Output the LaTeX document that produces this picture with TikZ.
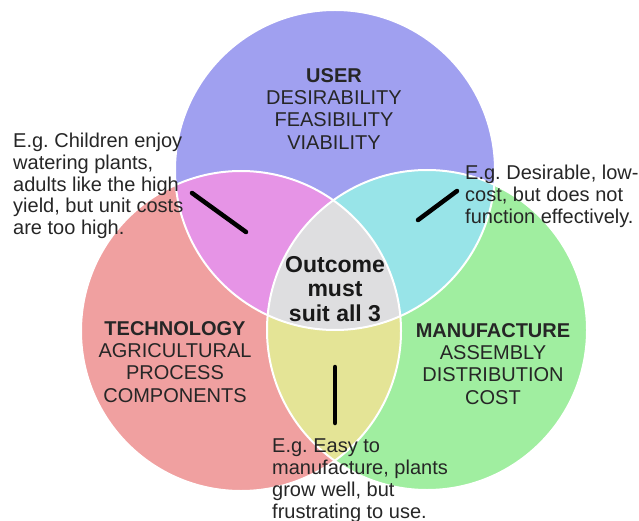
\documentclass[tikz,border=0pt]{standalone}
\usepackage{fontspec}
\setmainfont{Liberation Sans}
\frenchspacing
\definecolor{userc}{RGB}{160,160,240}
\definecolor{techc}{RGB}{240,160,160}
\definecolor{manuc}{RGB}{160,238,160}
\definecolor{utc}{RGB}{230,148,230}
\definecolor{umc}{RGB}{152,228,232}
\definecolor{tmc}{RGB}{228,228,150}
\definecolor{allc}{RGB}{222,222,224}
\begin{document}
\begin{tikzpicture}[x=1pt,y=-1pt,
  lab/.style={align=center,anchor=north,inner sep=0pt,font=\fontsize{20}{22.3}\selectfont,text=black!85},
  note/.style={align=left,anchor=north west,inner sep=0pt,font=\fontsize{20}{21.7}\selectfont,text=black!85},
  stick/.style={line width=4.5pt,line cap=round},
  ring/.style={white,line width=2pt}]
\useasboundingbox (0,0) rectangle (639,521);
\coordinate (U) at (335,170);
\coordinate (T) at (241,331);
\coordinate (M) at (427,330);
% three sets
\fill[userc] (U) circle[radius=160pt];
\fill[techc] (T) circle[radius=160pt];
\fill[manuc] (M) circle[radius=160pt];
\begin{scope}
\clip (T) circle[radius=160pt];
\fill[tmc] (M) circle[radius=160pt];
\end{scope}
\begin{scope}
\clip (U) circle[radius=160pt];
\fill[utc] (T) circle[radius=160pt];
\fill[umc] (M) circle[radius=160pt];
\clip (T) circle[radius=160pt];
\fill[allc] (M) circle[radius=160pt];
\end{scope}
\foreach \c in {U,T,M} \draw[ring] (\c) circle[radius=160pt];
% labels
\node[lab] (user) at (334,68) {\textbf{USER}\\DESIRABILITY\\FEASIBILITY\\VIABILITY};
\node[lab] (tech) at (175,321) {\textbf{TECHNOLOGY}\\AGRICULTURAL\\PROCESS\\COMPONENTS};
\node[lab] (manu) at (493,323) {\textbf{MANUFACTURE}\\ASSEMBLY\\DISTRIBUTION\\COST};
\node[lab,font=\fontsize{23}{24.5}\selectfont\bfseries,text=black!90] (all) at (335,256) {Outcome\\must\\suit all 3};
% examples
\node[note] (ut) at (13,133) {E.g. Children enjoy\\watering plants,\\adults like the high\\yield, but unit costs\\are too high.};
\node[note] (um) at (465,165) {E.g. Desirable, low-\\cost, but does not\\function effectively.};
\node[note] (tm) at (272,439) {E.g. Easy to\\manufacture, plants\\grow well, but\\frustrating to use.};
\coordinate (ut1) at (192,193); \coordinate (ut2) at (246,232);
\coordinate (um1) at (457,191); \coordinate (um2) at (418,220);
\coordinate (tm1) at (335,367); \coordinate (tm2) at (335,423);
\draw[stick] (ut1)--(ut2);
\draw[stick] (um1)--(um2);
\draw[stick] (tm1)--(tm2);
\end{tikzpicture}
\end{document}
